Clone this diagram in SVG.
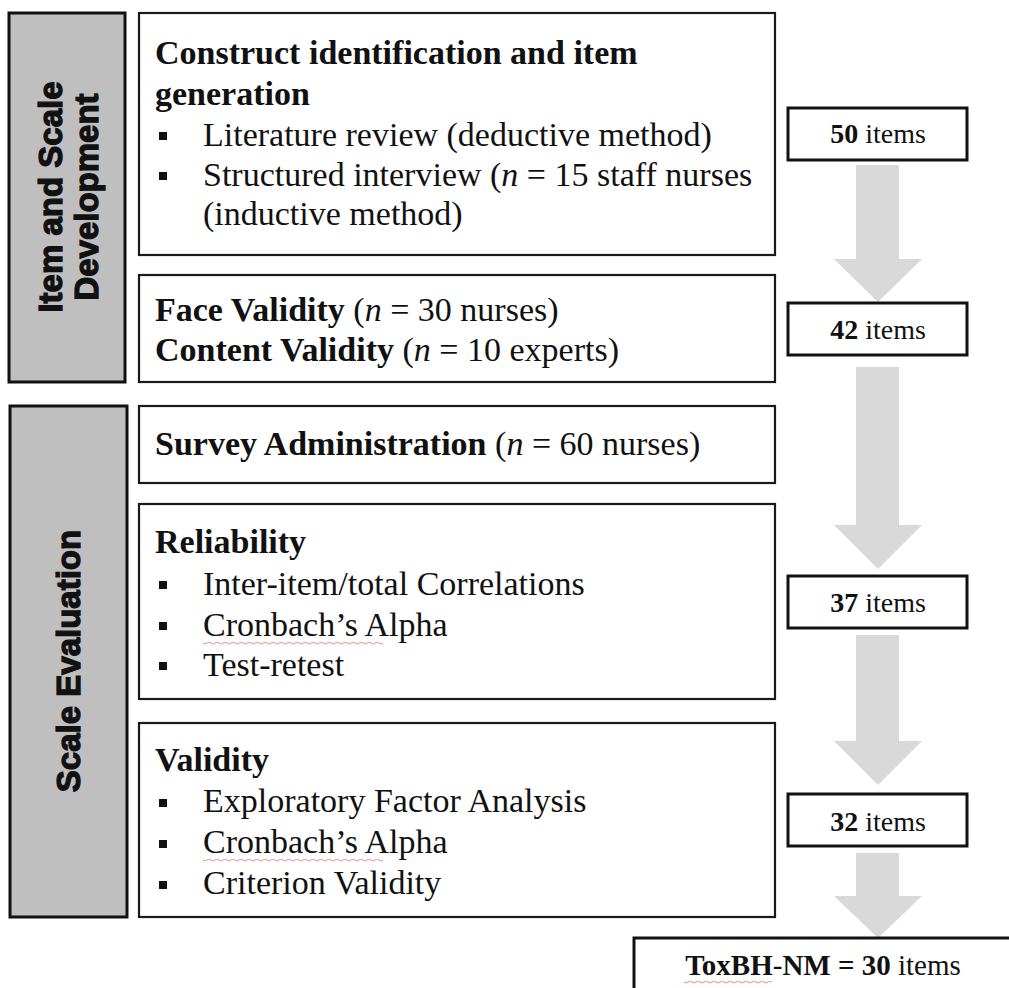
<svg xmlns="http://www.w3.org/2000/svg" width="1009" height="988" viewBox="0 0 1009 988">
<defs>
<style>
.side{fill:#bfbfbf;stroke:#111;stroke-width:3}
.box{fill:#fff;stroke:#1a1a1a;stroke-width:2.2}
.ibox{fill:#fff;stroke:#111;stroke-width:3}
.st{font-family:"Liberation Sans",Arial,sans-serif;font-weight:700;font-size:33px;fill:#111;stroke:#111;stroke-width:1.3;text-anchor:middle}
.t{font-family:"Liberation Serif","Times New Roman",serif;font-size:34px;fill:#111}
.it{font-family:"Liberation Serif","Times New Roman",serif;font-size:28px;fill:#111;text-anchor:middle}
.b{font-weight:bold}
.i{font-style:italic}
.bul{fill:#111}
.arr{fill:#d9d9d9}
.sq{fill:none;stroke:#eaa5a5;stroke-width:1.2}
</style>
</defs>
<g id="side1">
<rect class="side" x="9" y="13" width="116" height="369"/>
<text class="st" transform="translate(62,197) rotate(-90)">Item and Scale</text>
<text class="st" transform="translate(98,197) rotate(-90)">Development</text>
</g>
<g id="side2">
<rect class="side" x="10" y="406" width="117" height="511"/>
<text class="st" transform="translate(80,661) rotate(-90)">Scale Evaluation</text>
</g>
<g id="box1">
<rect class="box" x="139" y="13" width="636" height="242"/>
<text class="t b" x="155" y="64">Construct identification and item</text>
<text class="t b" x="155" y="105">generation</text>
<rect class="bul" x="159" y="132" width="8" height="8"/>
<text class="t" x="203" y="146">Literature review (deductive method)</text>
<rect class="bul" x="159" y="172" width="8" height="8"/>
<text class="t" x="203" y="186">Structured interview (<tspan class="i">n</tspan> = 15 staff nurses</text>
<text class="t" x="203" y="225">(inductive method)</text>
</g>
<g id="box2">
<rect class="box" x="139" y="275" width="636" height="107"/>
<text class="t" x="155" y="321"><tspan class="b">Face Validity</tspan> (<tspan class="i">n</tspan> = 30 nurses)</text>
<text class="t" x="155" y="361"><tspan class="b">Content Validity</tspan> (<tspan class="i">n</tspan> = 10 experts)</text>
</g>
<g id="box3">
<rect class="box" x="139" y="406" width="636" height="77"/>
<text class="t" x="155" y="455"><tspan class="b">Survey Administration</tspan> (<tspan class="i">n</tspan> = 60 nurses)</text>
</g>
<g id="box4">
<rect class="box" x="139" y="504" width="636" height="195"/>
<text class="t b" x="155" y="553">Reliability</text>
<rect class="bul" x="159" y="581" width="8" height="8"/>
<text class="t" x="203" y="595">Inter-item/total Correlations</text>
<rect class="bul" x="159" y="622" width="8" height="8"/>
<text class="t" x="203" y="636">Cronbach’s Alpha</text>
<path class="sq" d="M203 643 q2 1.5 4 0 t4 0 t4 0 t4 0 t4 0 t4 0 t4 0 t4 0 t4 0 t4 0 t4 0 t4 0 t4 0 t4 0 t4 0 t4 0 t4 0 t4 0 t4 0 t4 0 t4 0 t4 0 t4 0 t4 0 t4 0 t4 0 t4 0 t4 0 t4 0 t4 0 t4 0 t4 0 t4 0 t4 0 t4 0 t4 0 t4 0 t4 0 t4 0 t4 0 t4 0 t4 0 t4 0 t4 0 t4 0"/>
<rect class="bul" x="159" y="662" width="8" height="8"/>
<text class="t" x="203" y="676">Test-retest</text>
</g>
<g id="box5">
<rect class="box" x="139" y="723" width="636" height="194"/>
<text class="t b" x="155" y="771">Validity</text>
<rect class="bul" x="159" y="799" width="8" height="8"/>
<text class="t" x="203" y="812">Exploratory Factor Analysis</text>
<rect class="bul" x="159" y="840" width="8" height="8"/>
<text class="t" x="203" y="853">Cronbach’s Alpha</text>
<path class="sq" d="M203 860 q2 1.5 4 0 t4 0 t4 0 t4 0 t4 0 t4 0 t4 0 t4 0 t4 0 t4 0 t4 0 t4 0 t4 0 t4 0 t4 0 t4 0 t4 0 t4 0 t4 0 t4 0 t4 0 t4 0 t4 0 t4 0 t4 0 t4 0 t4 0 t4 0 t4 0 t4 0 t4 0 t4 0 t4 0 t4 0 t4 0 t4 0 t4 0 t4 0 t4 0 t4 0 t4 0 t4 0 t4 0 t4 0 t4 0"/>
<rect class="bul" x="159" y="881" width="8" height="8"/>
<text class="t" x="203" y="894">Criterion Validity</text>
</g>
<g id="connectors">
<path class="arr" d="M856 165 H899 V259 H922 L878 302 L834 259 H856 Z"/>
<path class="arr" d="M856 367 H899 V525 H922 L878 569 L834 525 H856 Z"/>
<path class="arr" d="M856 635 H899 V741 H922 L878 785 L834 741 H856 Z"/>
<path class="arr" d="M856 853 H899 V896 H922 L878 938 L834 896 H856 Z"/>
</g>
<g id="n50">
<rect class="ibox" x="788" y="108" width="179" height="52"/>
<text class="it" x="878" y="143"><tspan class="b">50</tspan> items</text>
</g>
<g id="n42">
<rect class="ibox" x="788" y="303" width="179" height="52"/>
<text class="it" x="878" y="339"><tspan class="b">42</tspan> items</text>
</g>
<g id="n37">
<rect class="ibox" x="788" y="576" width="179" height="52"/>
<text class="it" x="878" y="612"><tspan class="b">37</tspan> items</text>
</g>
<g id="n32">
<rect class="ibox" x="788" y="794" width="179" height="52"/>
<text class="it" x="878" y="831"><tspan class="b">32</tspan> items</text>
</g>
<g id="final">
<rect class="ibox" x="634" y="938" width="400" height="80"/>
<text class="it" x="823" y="975" style="font-size:29px"><tspan class="b">ToxBH</tspan>-<tspan class="b">NM = 30</tspan> items</text>
<path class="sq" d="M684 982 q2 1.5 4 0 t4 0 t4 0 t4 0 t4 0 t4 0 t4 0 t4 0 t4 0 t4 0 t4 0 t4 0 t4 0 t4 0 t4 0 t4 0 t4 0 t4 0 t4 0 t4 0 t4 0 t4 0"/>
</g>
</svg>
